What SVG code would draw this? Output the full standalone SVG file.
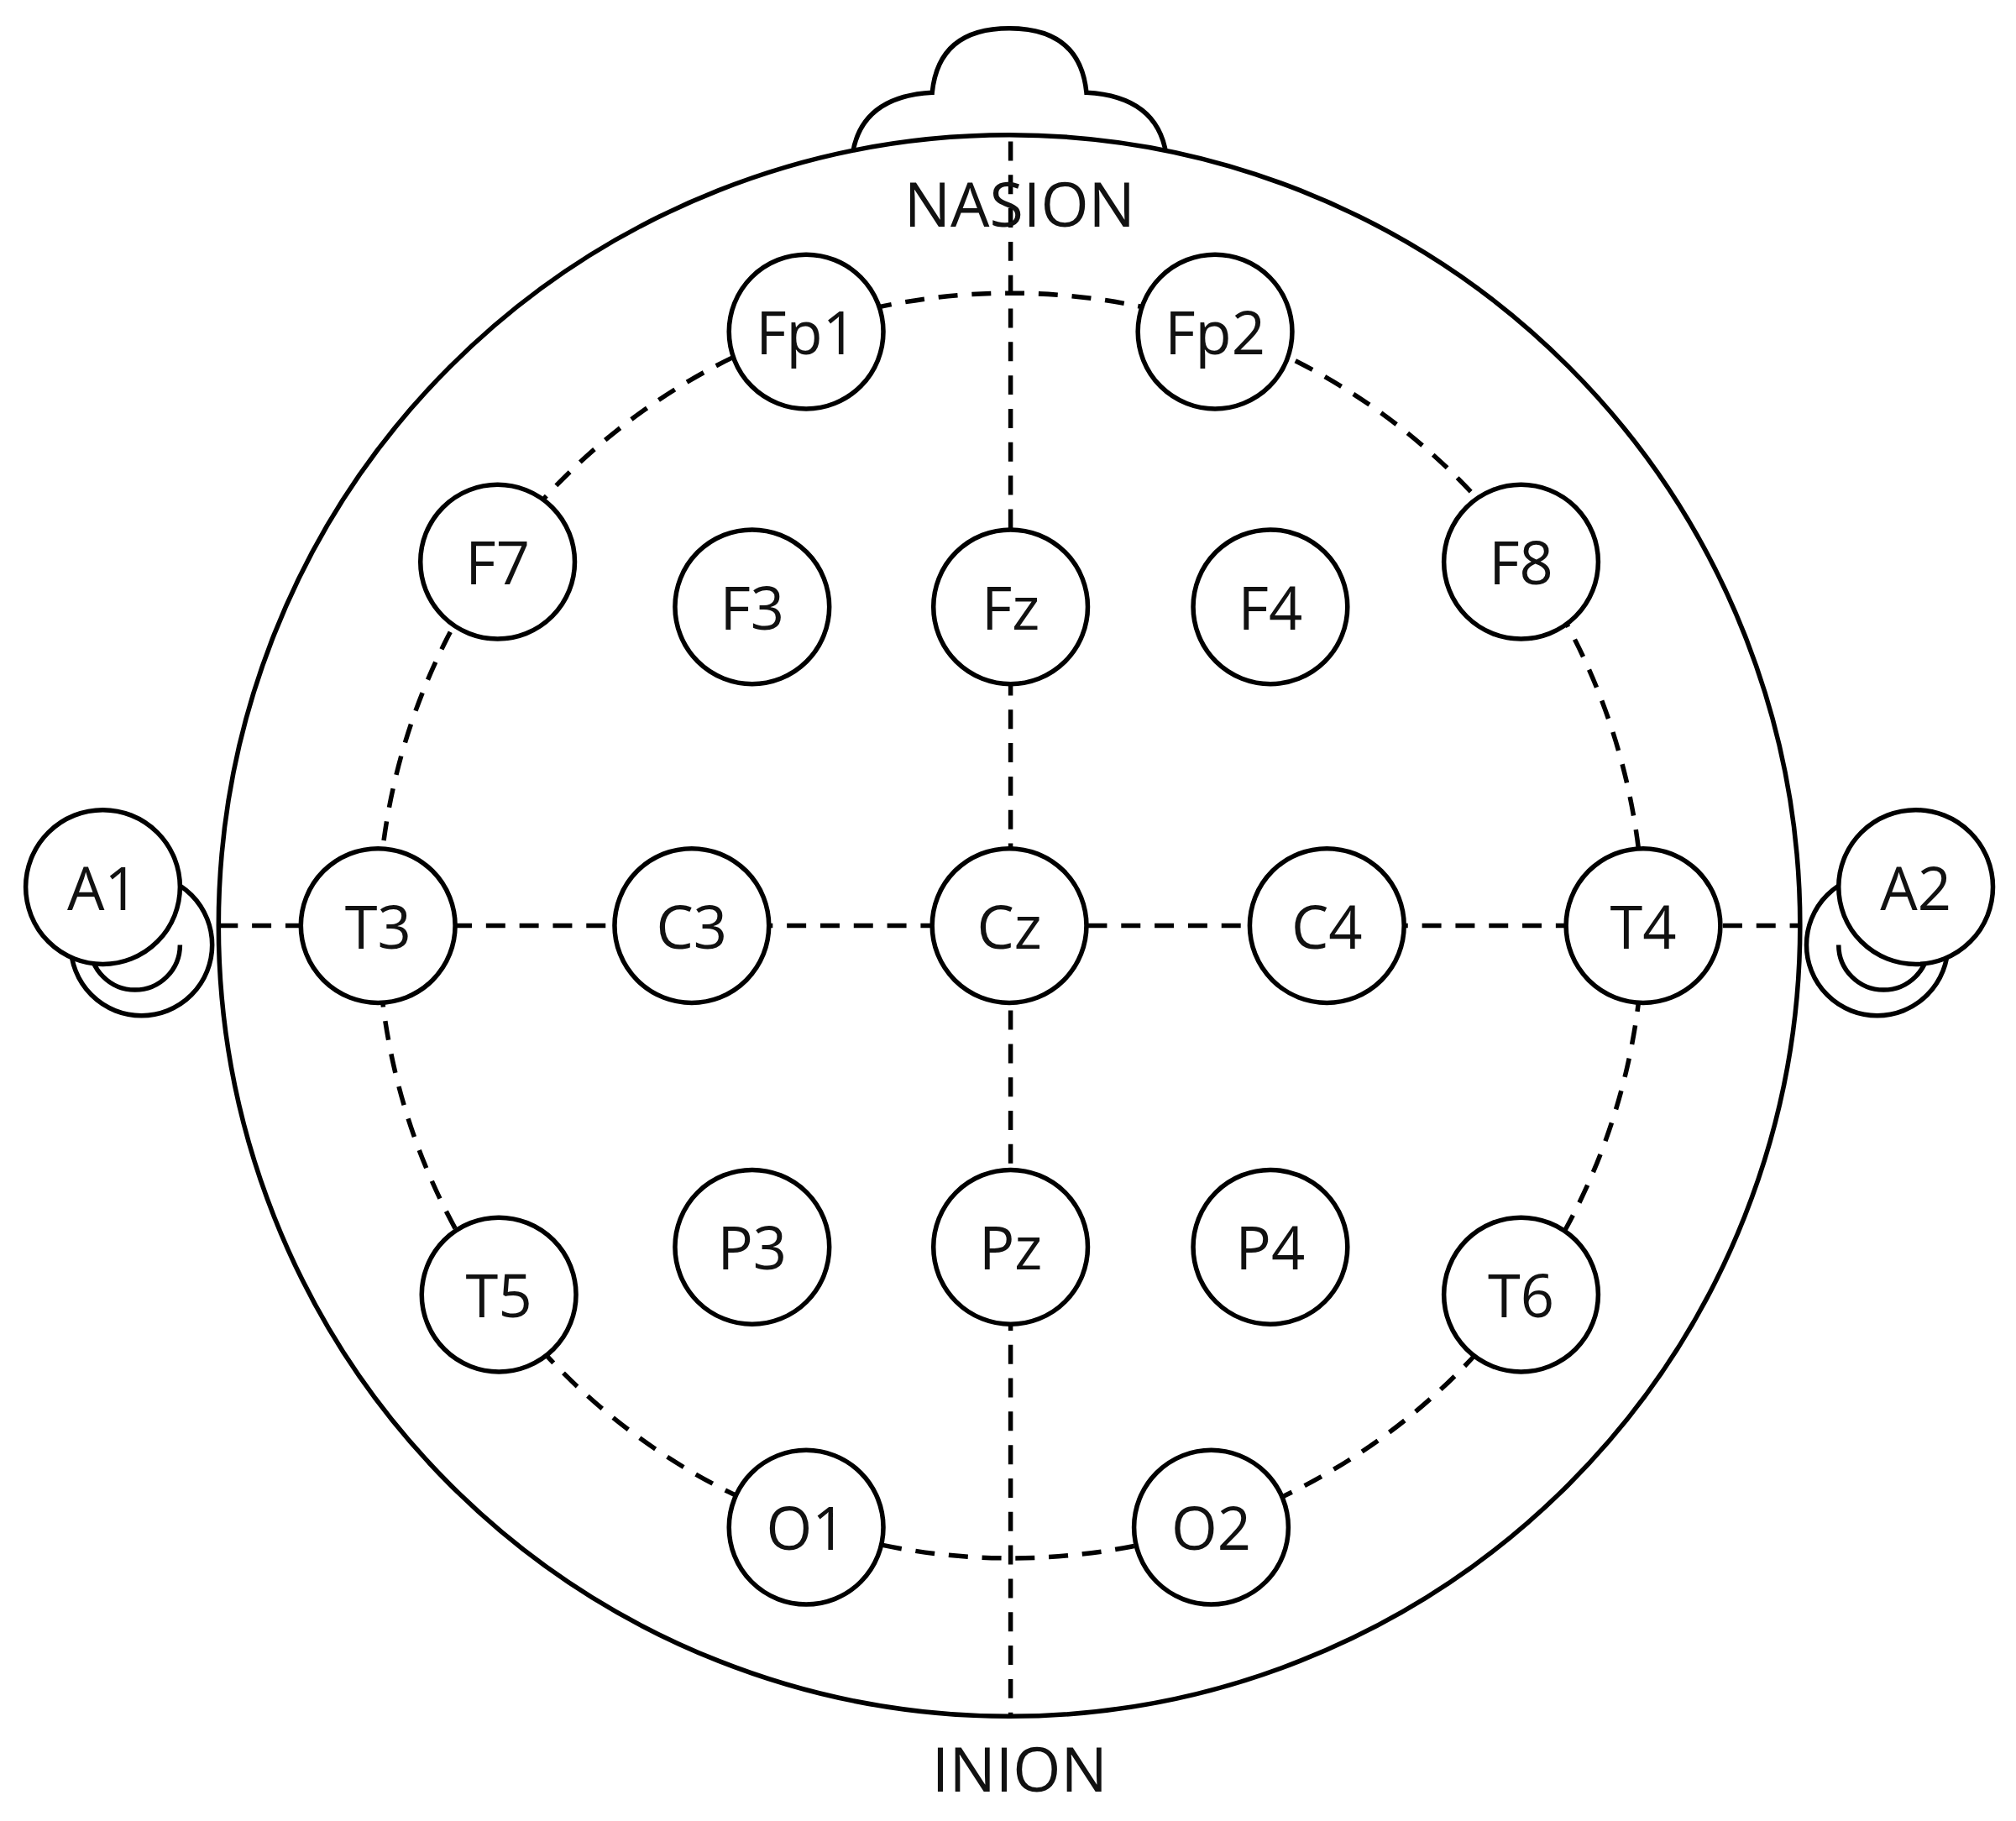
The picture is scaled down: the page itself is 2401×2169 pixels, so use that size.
<svg xmlns="http://www.w3.org/2000/svg" width="2401" height="2169" viewBox="0 0 2401 2169">
<style>
.o{fill:none;stroke:#000;stroke-width:3.6}
.w{fill:#fff;stroke:#000;stroke-width:3.6}
.d{fill:none;stroke:#000;stroke-width:3.6;stroke-dasharray:15 11}
text{font-family:"Open Sans","Noto Sans",sans-serif;font-size:46px;text-anchor:middle;dominant-baseline:central;fill:#111}
.big{font-size:48px}
</style>
<rect width="2401" height="2169" fill="#fff"/>
<g transform="scale(1.5313)">
<g id="outline">
<path class="w" d="M663,120 Q670,75 725,72 Q730,22 785,22 Q840,22 845,72 Q900,75 907,120 Z"/>
<circle class="w" cx="110" cy="735" r="55"/>
<path class="o" d="M70,735 A35,35 0 0 0 140,735"/>
<circle class="w" cx="1460" cy="735" r="55"/>
<path class="o" d="M1430,735 A35,35 0 0 0 1500,735"/>
<circle class="w" cx="785" cy="720" r="615"/>
</g>
<g id="connectors">
<line class="d" x1="786" y1="110" x2="786" y2="1335"/>
<line class="d" x1="170" y1="720" x2="1400" y2="720"/>
<circle class="d" cx="786" cy="720" r="492"/>
</g>
<text class="big" x="793" y="158">NASION</text>
<text class="big" x="793" y="1375">INION</text>
<g id="Fp1"><circle class="w" cx="627" cy="258" r="60"/><text x="627" y="258">Fp1</text></g>
<g id="Fp2"><circle class="w" cx="945" cy="258" r="60"/><text x="945" y="258">Fp2</text></g>
<g id="F7"><circle class="w" cx="387" cy="437" r="60"/><text x="387" y="437">F7</text></g>
<g id="F3"><circle class="w" cx="585" cy="472" r="60"/><text x="585" y="472">F3</text></g>
<g id="Fz"><circle class="w" cx="786" cy="472" r="60"/><text x="786" y="472">Fz</text></g>
<g id="F4"><circle class="w" cx="988" cy="472" r="60"/><text x="988" y="472">F4</text></g>
<g id="F8"><circle class="w" cx="1183" cy="437" r="60"/><text x="1183" y="437">F8</text></g>
<g id="T3"><circle class="w" cx="294" cy="720" r="60"/><text x="294" y="720">T3</text></g>
<g id="C3"><circle class="w" cx="538" cy="720" r="60"/><text x="538" y="720">C3</text></g>
<g id="Cz"><circle class="w" cx="785" cy="720" r="60"/><text x="785" y="720">Cz</text></g>
<g id="C4"><circle class="w" cx="1032" cy="720" r="60"/><text x="1032" y="720">C4</text></g>
<g id="T4"><circle class="w" cx="1278" cy="720" r="60"/><text x="1278" y="720">T4</text></g>
<g id="A1"><circle class="w" cx="80" cy="690" r="60"/><text x="80" y="690">A1</text></g>
<g id="A2"><circle class="w" cx="1490" cy="690" r="60"/><text x="1490" y="690">A2</text></g>
<g id="T5"><circle class="w" cx="388" cy="1007" r="60"/><text x="388" y="1007">T5</text></g>
<g id="P3"><circle class="w" cx="585" cy="970" r="60"/><text x="585" y="970">P3</text></g>
<g id="Pz"><circle class="w" cx="786" cy="970" r="60"/><text x="786" y="970">Pz</text></g>
<g id="P4"><circle class="w" cx="988" cy="970" r="60"/><text x="988" y="970">P4</text></g>
<g id="T6"><circle class="w" cx="1183" cy="1007" r="60"/><text x="1183" y="1007">T6</text></g>
<g id="O1"><circle class="w" cx="627" cy="1188" r="60"/><text x="627" y="1188">O1</text></g>
<g id="O2"><circle class="w" cx="942" cy="1188" r="60"/><text x="942" y="1188">O2</text></g>
</g>
</svg>
